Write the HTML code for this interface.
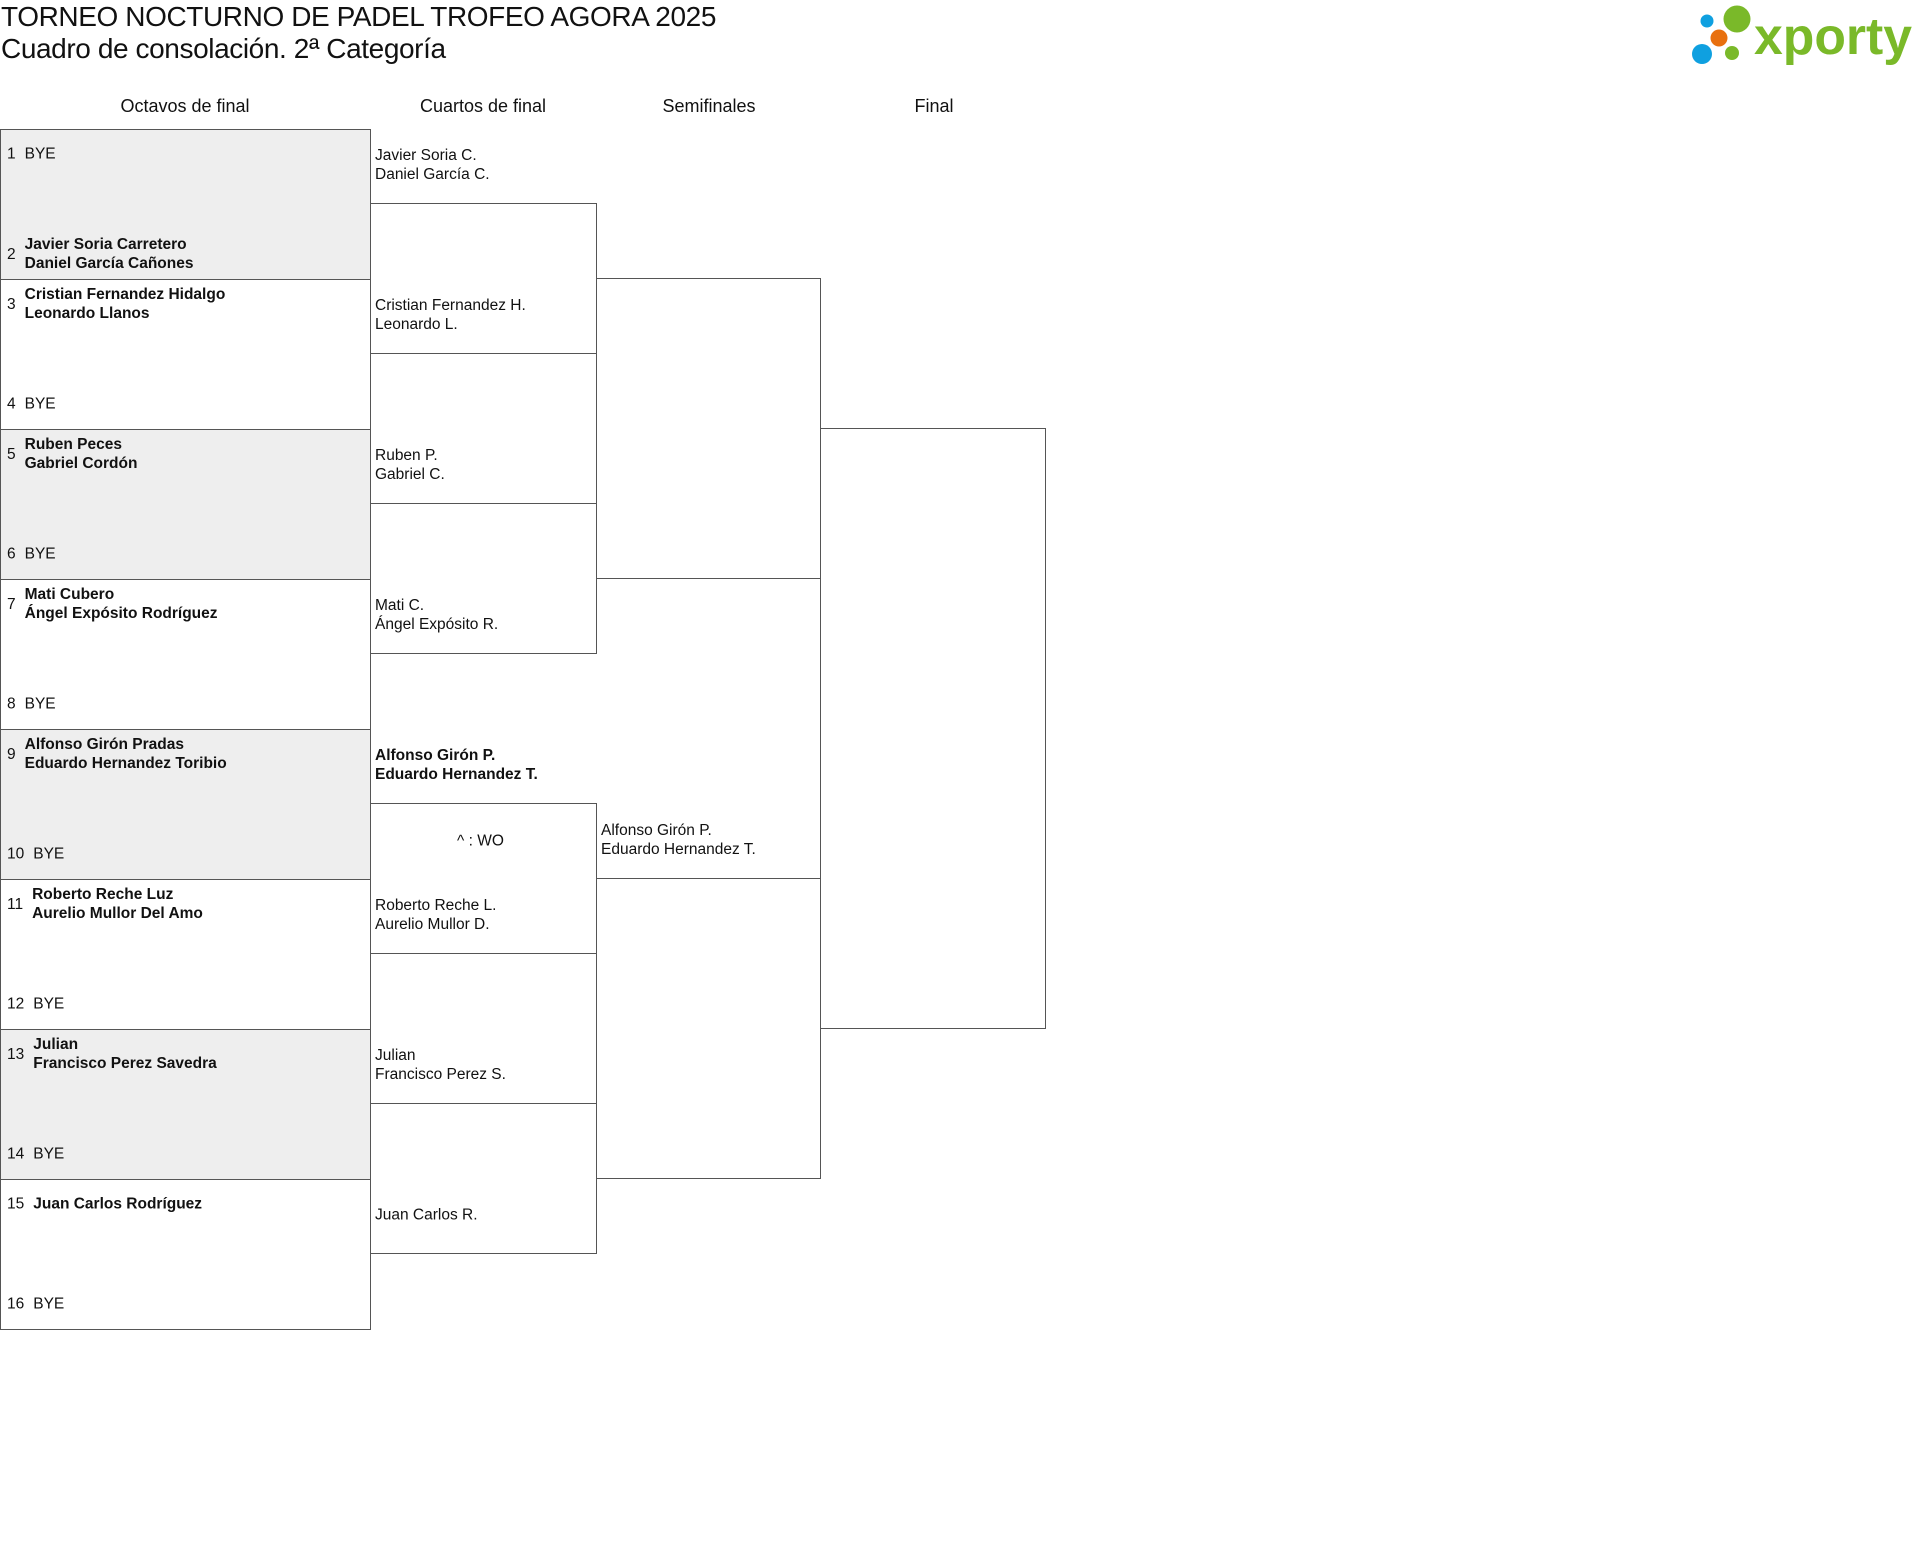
<!DOCTYPE html>
<html><head><meta charset="utf-8"><style>
body{margin:0;width:1920px;height:1558px;background:#fff;position:relative;font-family:"Liberation Sans",sans-serif;color:#111;overflow:hidden}
.a{position:absolute}
.t1{left:1px;top:1px;font-size:28px;letter-spacing:-0.4px}
.t2{left:1px;top:33px;font-size:28px;letter-spacing:-0.4px}
.h{top:96px;font-size:18px;transform:translateX(-50%);white-space:nowrap}
.box{position:absolute;border:1px solid #555;box-sizing:border-box}
.g{background:#eee}
.e{position:absolute;left:6px;transform:translateY(-50%);display:flex;align-items:center;font-size:15.5px;line-height:19px;white-space:nowrap}
.e .n{margin-right:9px;font-weight:normal}
.e .m{font-weight:bold}
.e .b{font-weight:normal}
.l{position:absolute;transform:translateY(-50%);font-size:15.5px;line-height:19px;white-space:nowrap}
</style></head><body>
<div class="a t1">TORNEO NOCTURNO DE PADEL TROFEO AGORA 2025</div>
<div class="a t2">Cuadro de consolación. 2ª Categoría</div>
<svg class="a" style="left:1680px;top:0" width="240" height="75">
<circle cx="27" cy="21" r="6.5" fill="#0fa0e0"/>
<circle cx="57" cy="19" r="13.5" fill="#7ab929"/>
<circle cx="39" cy="38" r="8.5" fill="#e8700f"/>
<circle cx="22" cy="54" r="10" fill="#0fa0e0"/>
<circle cx="52" cy="53" r="7" fill="#7ab929"/>
<text x="74" y="54" font-family="Liberation Sans" font-weight="bold" font-size="52" fill="#7ab929" textLength="158" lengthAdjust="spacingAndGlyphs">xporty</text>
</svg>
<div class="a h" style="left:185px">Octavos de final</div>
<div class="a h" style="left:483px">Cuartos de final</div>
<div class="a h" style="left:709px">Semifinales</div>
<div class="a h" style="left:934px">Final</div>

<div class="box g" style="left:0;top:129px;width:371px;height:151px">
<div class="e" style="top:24px"><span class="n">1</span><span class="b">BYE</span></div>
<div class="e" style="top:124px"><span class="n">2</span><span class="m">Javier Soria Carretero<br>Daniel García Cañones</span></div></div>
<div class="box" style="left:0;top:279px;width:371px;height:151px">
<div class="e" style="top:24px"><span class="n">3</span><span class="m">Cristian Fernandez Hidalgo<br>Leonardo Llanos</span></div>
<div class="e" style="top:124px"><span class="n">4</span><span class="b">BYE</span></div></div>
<div class="box g" style="left:0;top:429px;width:371px;height:151px">
<div class="e" style="top:24px"><span class="n">5</span><span class="m">Ruben Peces<br>Gabriel Cordón</span></div>
<div class="e" style="top:124px"><span class="n">6</span><span class="b">BYE</span></div></div>
<div class="box" style="left:0;top:579px;width:371px;height:151px">
<div class="e" style="top:24px"><span class="n">7</span><span class="m">Mati Cubero<br>Ángel Expósito Rodríguez</span></div>
<div class="e" style="top:124px"><span class="n">8</span><span class="b">BYE</span></div></div>
<div class="box g" style="left:0;top:729px;width:371px;height:151px">
<div class="e" style="top:24px"><span class="n">9</span><span class="m">Alfonso Girón Pradas<br>Eduardo Hernandez Toribio</span></div>
<div class="e" style="top:124px"><span class="n">10</span><span class="b">BYE</span></div></div>
<div class="box" style="left:0;top:879px;width:371px;height:151px">
<div class="e" style="top:24px"><span class="n">11</span><span class="m">Roberto Reche Luz<br>Aurelio Mullor Del Amo</span></div>
<div class="e" style="top:124px"><span class="n">12</span><span class="b">BYE</span></div></div>
<div class="box g" style="left:0;top:1029px;width:371px;height:151px">
<div class="e" style="top:24px"><span class="n">13</span><span class="m">Julian<br>Francisco Perez Savedra</span></div>
<div class="e" style="top:124px"><span class="n">14</span><span class="b">BYE</span></div></div>
<div class="box" style="left:0;top:1179px;width:371px;height:151px">
<div class="e" style="top:24px"><span class="n">15</span><span class="m">Juan Carlos Rodríguez</span></div>
<div class="e" style="top:124px"><span class="n">16</span><span class="b">BYE</span></div></div>

<div class="box" style="left:370px;top:203px;width:227px;height:151px"></div>
<div class="box" style="left:370px;top:503px;width:227px;height:151px"></div>
<div class="box" style="left:370px;top:803px;width:227px;height:151px"></div>
<div class="box" style="left:370px;top:1103px;width:227px;height:151px"></div>
<div class="l" style="left:375px;top:165px">Javier Soria C.<br>Daniel García C.</div>
<div class="l" style="left:375px;top:315px">Cristian Fernandez H.<br>Leonardo L.</div>
<div class="l" style="left:375px;top:465px">Ruben P.<br>Gabriel C.</div>
<div class="l" style="left:375px;top:615px">Mati C.<br>Ángel Expósito R.</div>
<div class="l" style="left:375px;top:765px;font-weight:bold">Alfonso Girón P.<br>Eduardo Hernandez T.</div>
<div class="l" style="left:457px;top:841px">^ : WO</div>
<div class="l" style="left:375px;top:915px">Roberto Reche L.<br>Aurelio Mullor D.</div>
<div class="l" style="left:375px;top:1065px">Julian<br>Francisco Perez S.</div>
<div class="l" style="left:375px;top:1215px">Juan Carlos R.</div>

<div class="box" style="left:596px;top:278px;width:225px;height:301px"></div>
<div class="box" style="left:596px;top:878px;width:225px;height:301px"></div>
<div class="l" style="left:601px;top:840px">Alfonso Girón P.<br>Eduardo Hernandez T.</div>

<div class="box" style="left:820px;top:428px;width:226px;height:601px"></div>
</body></html>
